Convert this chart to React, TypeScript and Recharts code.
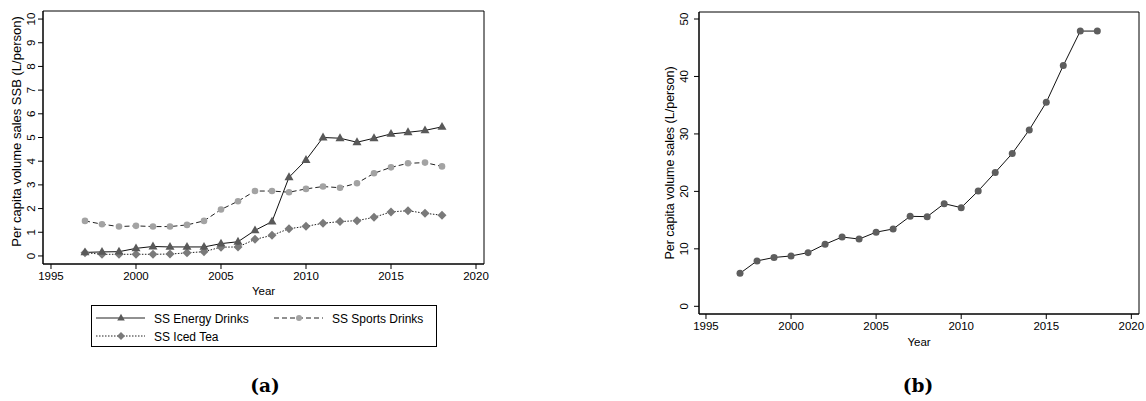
import React from 'react';
import { LineChart, Line, XAxis, YAxis, ReferenceArea } from 'recharts';

// Survey years shared by both panels
const years = [1997, 1998, 1999, 2000, 2001, 2002, 2003, 2004, 2005, 2006, 2007, 2008, 2009, 2010, 2011, 2012, 2013, 2014, 2015, 2016, 2017, 2018];

// (a) per capita volume sales by SSB type, L/person
const energyDrinks = [0.15, 0.17, 0.18, 0.32, 0.4, 0.38, 0.38, 0.38, 0.52, 0.6, 1.08, 1.45, 3.32, 4.05, 5.0, 4.97, 4.8, 4.97, 5.15, 5.22, 5.3, 5.45];
const sportsDrinks = [1.48, 1.34, 1.24, 1.27, 1.24, 1.24, 1.31, 1.48, 1.96, 2.31, 2.74, 2.74, 2.69, 2.83, 2.93, 2.88, 3.07, 3.49, 3.74, 3.91, 3.94, 3.78];
const icedTea = [0.14, 0.07, 0.07, 0.07, 0.07, 0.08, 0.13, 0.18, 0.37, 0.38, 0.7, 0.87, 1.15, 1.25, 1.38, 1.45, 1.49, 1.63, 1.86, 1.91, 1.8, 1.72];

// (b) total per capita volume sales, L/person
const totalSales = [5.74, 7.9, 8.5, 8.76, 9.34, 10.8, 12.06, 11.7, 12.9, 13.46, 15.66, 15.6, 17.86, 17.17, 20.07, 23.3, 26.6, 30.7, 35.5, 41.9, 47.9, 47.9];

const yearTicks = [1995, 2000, 2005, 2010, 2015, 2020];
const leftTicks = [0, 1, 2, 3, 4, 5, 6, 7, 8, 9, 10];
const rightTicks = [0, 10, 20, 30, 40, 50];

const leftData = years.map((year, i) => ({
  year,
  energy: energyDrinks[i],
  sports: sportsDrinks[i],
  tea: icedTea[i],
}));
const rightData = years.map((year, i) => ({ year, total: totalSales[i] }));

const FONT = '"Liberation Sans", Arial, Helvetica, sans-serif';
const TRI = '#595959';
const CIRC = '#a3a3a3';
const DIAM = '#7a7a7a';

// marker shapes (stata-ish)
function triangle(cx: number, cy: number, s: number, fill: string, key?: any) {
  return <path key={key} d={`M${cx},${cy - s * 1.1} L${cx + s},${cy + s * 0.65} L${cx - s},${cy + s * 0.65} Z`} fill={fill} />;
}
function diamond(cx: number, cy: number, s: number, fill: string, key?: any) {
  return <path key={key} d={`M${cx},${cy - s} L${cx + s},${cy} L${cx},${cy + s} L${cx - s},${cy} Z`} fill={fill} />;
}
function circle(cx: number, cy: number, r: number, fill: string, key?: any) {
  return <circle key={key} cx={cx} cy={cy} r={r} fill={fill} />;
}

const dotOf = (kind: string, size: number, fill: string) => (p: any) => {
  if (p.cx == null || p.cy == null) return <g key={p.index} />;
  if (kind === 'tri') return triangle(p.cx, p.cy, size, fill, p.index);
  if (kind === 'dia') return diamond(p.cx, p.cy, size, fill, p.index);
  return circle(p.cx, p.cy, size, fill, p.index);
};

const VerticalTick = (props: any) => {
  const { x, y, payload, fontSize } = props;
  return (
    <text x={x} y={y} transform={`rotate(-90 ${x} ${y})`} textAnchor="middle" fontSize={fontSize} fill="#000">
      {payload.value}
    </text>
  );
};

const YTitle = (props: any) => {
  const { viewBox, value, dx, dy, fontSize } = props;
  const x = viewBox.x + dx;
  const y = viewBox.y + viewBox.height / 2 + dy;
  return (
    <text x={x} y={y} transform={`rotate(-90 ${x} ${y})`} textAnchor="middle" fontSize={fontSize} fill="#000">
      {value}
    </text>
  );
};

const XTitle = (props: any) => {
  const { viewBox, value, dy, fontSize } = props;
  return (
    <text x={viewBox.x + viewBox.width / 2} y={viewBox.y + dy} textAnchor="middle" fontSize={fontSize} fill="#000">
      {value}
    </text>
  );
};

const legendItems = [
  { name: 'SS Energy Drinks', kind: 'tri', fill: TRI, dash: undefined, col: 0, row: 0 },
  { name: 'SS Sports Drinks', kind: 'circ', fill: CIRC, dash: '5 3', col: 1, row: 0 },
  { name: 'SS Iced Tea', kind: 'dia', fill: DIAM, dash: '1.5 1.5', col: 0, row: 1 },
];

function LegendBox() {
  return (
    <div style={{ position: 'absolute', left: 91, top: 305, width: 344, height: 40, border: '1px solid #000' }}>
      <svg width={344} height={40} style={{ display: 'block' }}>
        {legendItems.map((it) => {
          const x0 = it.col === 0 ? 4 : 182;
          const y = it.row === 0 ? 12 : 30;
          const mx = x0 + 25;
          return (
            <g key={it.name}>
              <line x1={x0} x2={x0 + 49} y1={y} y2={y} stroke="#222" strokeWidth={1} strokeDasharray={it.dash} />
              {it.kind === 'tri' && triangle(mx, y, 3.8, it.fill)}
              {it.kind === 'circ' && circle(mx, y, 3, it.fill)}
              {it.kind === 'dia' && diamond(mx, y, 4, it.fill)}
              <text x={x0 + 58} y={y + 4.5} fontSize={12} fill="#000" fontFamily={FONT}>
                {it.name}
              </text>
            </g>
          );
        })}
      </svg>
    </div>
  );
}

const captionStyle: React.CSSProperties = {
  position: 'absolute',
  top: 375,
  width: 60,
  textAlign: 'center',
  fontFamily: '"DejaVu Serif", serif',
  fontWeight: 'bold',
  fontSize: 18.5,
  lineHeight: '22px',
};

export default function App() {
  const lxDomain = [1994.53, 2020.47];
  const lyDomain = [-0.34, 10.34];
  const rxDomain = [1994.59, 2020.45];
  const ryDomain = [-1.34, 51.22];

  return (
    <div style={{ position: 'absolute', left: 0, top: 0, width: 1146, height: 401, background: '#fff', fontFamily: FONT }}>
      <div style={{ position: 'absolute', left: 0, top: 0 }}>
        <LineChart width={500} height={300} data={leftData} margin={{ top: 11, right: 16, bottom: 0, left: 0 }}>
          <XAxis
            dataKey="year"
            type="number"
            domain={lxDomain}
            ticks={yearTicks}
            allowDataOverflow
            height={36}
            tickSize={5}
            tickMargin={3}
            tick={{ fontSize: 11.5, fill: '#000' }}
            stroke="#000"
            label={<XTitle value="Year" dy={31} fontSize={11.5} />}
          />
          <YAxis
            type="number"
            domain={lyDomain}
            ticks={leftTicks}
            allowDataOverflow
            width={43}
            tickSize={5}
            tickMargin={3}
            tick={<VerticalTick fontSize={11.5} />}
            stroke="#000"
            label={<YTitle value="Per capita volume sales SSB (L/person)" dx={21} dy={-6} fontSize={13} />}
          />
          <ReferenceArea x1={lxDomain[0]} x2={lxDomain[1]} y1={lyDomain[0]} y2={lyDomain[1]} fill="none" stroke="#000" strokeWidth={1} />
          <Line dataKey="sports" stroke="#222" strokeWidth={1} strokeDasharray="5 3" dot={dotOf('circ', 3.3, CIRC)} isAnimationActive={false} />
          <Line dataKey="tea" stroke="#222" strokeWidth={1} strokeDasharray="1.5 1.5" dot={dotOf('dia', 4.5, DIAM)} isAnimationActive={false} />
          <Line dataKey="energy" stroke="#111" strokeWidth={1} dot={dotOf('tri', 4.5, TRI)} isAnimationActive={false} />
        </LineChart>
      </div>
      <LegendBox />
      <div style={{ ...captionStyle, left: 235 }}>(a)</div>

      <div style={{ position: 'absolute', left: 640, top: 0 }}>
        <LineChart width={506} height={360} data={rightData} margin={{ top: 12, right: 7, bottom: 0, left: 0 }}>
          <XAxis
            dataKey="year"
            type="number"
            domain={rxDomain}
            ticks={yearTicks}
            allowDataOverflow
            height={46}
            tickSize={5}
            tickMargin={3}
            tick={{ fontSize: 11.5, fill: '#000' }}
            stroke="#000"
            label={<XTitle value="Year" dy={32} fontSize={11.5} />}
          />
          <YAxis
            type="number"
            domain={ryDomain}
            ticks={rightTicks}
            allowDataOverflow
            width={59}
            tickSize={5}
            tickMargin={6}
            tick={<VerticalTick fontSize={11.5} />}
            stroke="#000"
            label={<YTitle value="Per capita volume sales (L/person)" dx={34} dy={0} fontSize={12.5} />}
          />
          <ReferenceArea x1={rxDomain[0]} x2={rxDomain[1]} y1={ryDomain[0]} y2={ryDomain[1]} fill="none" stroke="#000" strokeWidth={1} />
          <Line dataKey="total" stroke="#111" strokeWidth={1} dot={dotOf('circ', 3.5, '#5e5e5e')} isAnimationActive={false} />
        </LineChart>
      </div>
      <div style={{ ...captionStyle, left: 888 }}>(b)</div>
    </div>
  );
}
